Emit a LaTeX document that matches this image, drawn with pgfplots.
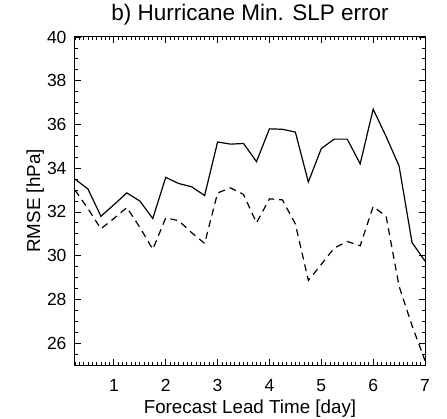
\documentclass[border=0pt]{standalone}
\usepackage{pgfplots}
\pgfplotsset{compat=1.18}
\usepackage{fontspec}
\setmainfont{Liberation Sans}
\begin{document}
\begin{tikzpicture}
\begin{axis}[
  scale only axis,
  width=350pt, height=328pt,
  xmin=0.25, xmax=7, ymin=25, ymax=40,
  xtick={1,2,3,4,5,6,7},
  ytick={26,28,30,32,34,36,38,40},
  minor xtick={0.25,0.333333,...,7.01},
  minor ytick={25,25.5,...,40},
  tick align=inside,
  major tick length=6pt, minor tick length=3pt,
  axis line style={line width=1pt},
  every tick/.style={black, line width=0.8pt},
  /pgf/number format/assume math mode=true,
  ticklabel style={font=\fontsize{17.5}{20}\selectfont},
  xticklabel style={yshift=-11pt},
  yticklabel style={xshift=-5pt},
  label style={font=\fontsize{18.8}{22}\selectfont},
  xlabel={Forecast Lead Time [day]},
  ylabel={RMSE [hPa]},
  xlabel style={yshift=-1pt},
  ylabel style={yshift=-4pt},
  title={b) Hurricane Min. SLP error},
  title style={font=\fontsize{22.5}{26}\selectfont, yshift=2pt},
  clip=false,
]
\coordinate (sw) at (rel axis cs:0,0);
\coordinate (ne) at (rel axis cs:1,1);
\addplot[black, line width=1.2pt] coordinates {
(0.25,33.5) (0.5,33.05) (0.75,31.8) (1.0,32.33) (1.25,32.87) (1.5,32.5) (1.75,31.7)
(2.0,33.58) (2.25,33.3) (2.5,33.15) (2.75,32.75) (3.0,35.2) (3.25,35.1) (3.5,35.13)
(3.75,34.3) (4.0,35.8) (4.25,35.78) (4.5,35.65) (4.75,33.37) (5.0,34.9) (5.25,35.33)
(5.5,35.33) (5.75,34.2) (6.0,36.7) (6.25,35.45) (6.5,34.1) (6.75,30.6) (7.0,29.75)
};
\addplot[black, line width=1.2pt, dash pattern=on 7pt off 5pt] coordinates {
(0.25,33.0) (0.5,32.15) (0.75,31.23) (1.0,31.7) (1.25,32.2) (1.5,31.3) (1.75,30.29)
(2.0,31.73) (2.25,31.6) (2.5,31.05) (2.75,30.56) (3.0,32.87) (3.25,33.1) (3.5,32.8)
(3.75,31.5) (4.0,32.6) (4.25,32.55) (4.5,31.45) (4.75,28.87) (5.0,29.6) (5.25,30.35)
(5.5,30.65) (5.75,30.45) (6.0,32.25) (6.25,31.8) (6.5,28.6) (6.75,26.8) (7.0,25.2)
};
\end{axis}
\pgfresetboundingbox
\path ([shift={(-75pt,-53pt)}]sw) rectangle ([shift={(22pt,37pt)}]ne);
\end{tikzpicture}
\end{document}
